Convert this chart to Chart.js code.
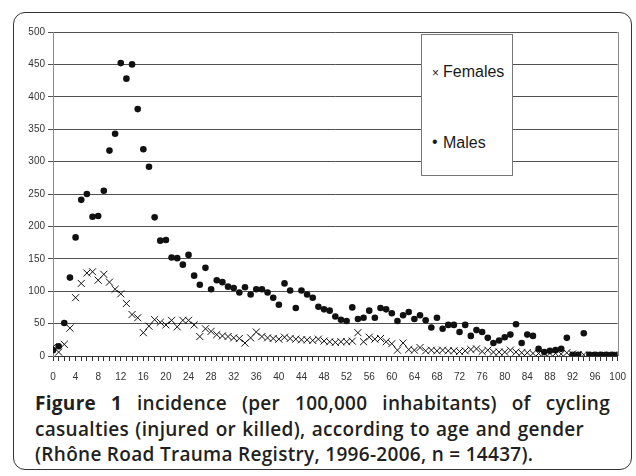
<!DOCTYPE html>
<html>
<head>
<meta charset="utf-8">
<script src="https://cdn.jsdelivr.net/npm/chart.js@4.4.1/dist/chart.umd.min.js"></script>
<style>
  html, body { margin: 0; padding: 0; background: #fff; }
  body { width: 636px; height: 476px; position: relative; overflow: hidden; }
  #frame { position: absolute; left: 13px; top: 12px; width: 619px; height: 458px; box-sizing: border-box;
           border: 1.5px solid #333; border-radius: 12px; }
  #wrap { position: absolute; left: 0; top: 0; width: 636px; height: 382px; }
  #legend { position: absolute; left: 421px; top: 34px; width: 92px; height: 142px; box-sizing: border-box;
            border: 1px solid #777; background: #fff; font-family: 'Liberation Sans', Arial, sans-serif;
            font-size: 16px; color: #1a1a1a; }
  #legend .sym { position: absolute; left: 10px; font-size: 12px; }
  #legend .txt { position: absolute; left: 21px; white-space: nowrap; }
  #caption { position: absolute; left: 35px; top: 391px; width: 575px; font-family: 'Open Sans', sans-serif;
             font-size: 19px; letter-spacing: 0.3px; font-weight: 600; color: #231f20; line-height: 25.5px; }
  #caption div { white-space: nowrap; }
  #caption .l1 { text-align: justify; text-align-last: justify; }
  #caption .l2 { word-spacing: 1px; }
  #caption b { font-weight: 700; }
</style>
</head>
<body>
<div id="frame"></div>
<div id="wrap"><canvas id="c" width="636" height="382"></canvas></div>
<div id="legend">
  <span class="sym" style="top:31px">×</span><span class="txt" style="top:28px">Females</span>
  <span class="sym" style="top:98px;font-size:16px">•</span><span class="txt" style="top:99px">Males</span>
</div>
<div id="caption">
  <div class="l1"><b>Figure 1</b> incidence (per 100,000 inhabitants) of cycling</div>
  <div class="l2">casualties (injured or killed), according to age and gender</div>
  <div class="l3">(Rhône Road Trauma Registry, 1996-2006, n = 14437).</div>
</div>
<script>
const ages = [0,1,2,3,4,5,6,7,8,9,10,11,12,13,14,15,16,17,18,19,20,21,22,23,24,25,26,27,28,29,30,
  31,32,33,34,35,36,37,38,39,40,41,42,43,44,45,46,47,48,49,50,51,52,53,54,55,56,57,58,59,60,
  61,62,63,64,65,66,67,68,69,70,71,72,73,74,75,76,77,78,79,80,81,82,83,84,85,86,87,88,89,90,
  91,92,93,94,95,96,97,98,99,100];

const males = [9,15,51,121,183,241,250,215,216,255,317,343,452,428,450,381,319,292,214,178,
  179,152,151,141,156,124,110,136,103,117,114,107,105,98,106,95,103,103,98,90,
  79,112,101,74,101,95,90,76,72,70,61,56,54,75,57,59,70,59,74,72,
  66,54,63,68,57,63,55,44,59,42,48,48,37,48,31,40,37,28,20,24,
  29,33,49,20,33,31,11,6,8,9,11,28,2,2,35,2,2,2,2,2,2];

const females = [14,6,18,43,90,112,128,130,117,126,114,103,96,81,64,59,36,46,56,52,
  48,55,45,55,55,48,30,42,38,33,31,30,28,27,20,28,37,30,28,27,
  26,29,27,26,25,25,24,26,23,22,21,22,22,23,36,22,29,26,27,22,
  19,9,20,10,9,13,8,9,8,9,8,8,7,8,10,11,7,9,6,6,
  6,9,6,5,5,4,4,4,4,4,3,5,3,2,2,1,1,1,1,1,1];

const xTickLabels = [0,4,8,12,16,20,24,28,32,36,40,44,48,52,56,60,64,68,72,76,80,84,88,92,96,100];
const yTickLabels = [0,50,100,150,200,250,300,350,400,450,500];

const tickFont = "'Liberation Sans', Arial, sans-serif";

const borderPlugin = {
  id: 'rightBorder',
  beforeDatasetsDraw(chart) {
    const a = chart.chartArea, ctx = chart.ctx;
    ctx.save();
    ctx.strokeStyle = '#8a8a8a';
    ctx.lineWidth = 1;
    ctx.beginPath();
    ctx.moveTo(Math.round(a.right) + 0.5, a.top);
    ctx.lineTo(Math.round(a.right) + 0.5, a.bottom);
    ctx.stroke();
    ctx.restore();
  }
};

new Chart(document.getElementById('c'), {
  type: 'scatter',
  data: {
    datasets: [
      {
        label: 'Females',
        data: ages.map((a, i) => ({ x: a, y: females[i] })),
        pointStyle: 'crossRot',
        pointRadius: 5,
        borderWidth: 1,
        borderColor: '#111',
        backgroundColor: '#111'
      },
      {
        label: 'Males',
        data: ages.map((a, i) => ({ x: a, y: males[i] })),
        pointStyle: 'circle',
        pointRadius: 3.3,
        borderWidth: 0,
        borderColor: '#111',
        backgroundColor: '#111'
      }
    ]
  },
  options: {
    responsive: false,
    animation: false,
    layout: { padding: { left: 0, right: 15, top: 32, bottom: 0 } },
    plugins: { legend: { display: false }, tooltip: { enabled: false } },
    scales: {
      x: {
        type: 'linear', min: 0, max: 100,
        afterFit(s) { s.height = 26; },
        afterBuildTicks(s) { s.ticks = ages.map(v => ({ value: v })); },
        grid: { drawOnChartArea: false, drawTicks: true, tickLength: 5, color: '#333', tickWidth: 1 },
        border: { display: true, color: '#333', width: 1 },
        ticks: {
          autoSkip: false, maxRotation: 0, minRotation: 0, padding: 10,
          color: '#333', font: { family: tickFont, size: 10 },
          callback: (v) => xTickLabels.includes(v) ? String(v) : ''
        }
      },
      y: {
        type: 'linear', min: 0, max: 500,
        afterFit(s) { s.width = 53; },
        afterBuildTicks(s) { s.ticks = yTickLabels.map(v => ({ value: v })); },
        grid: { drawOnChartArea: true, drawTicks: true, tickLength: 5, color: '#505050', lineWidth: 1 },
        border: { display: true, color: '#8a8a8a', width: 1 },
        ticks: { padding: 3, color: '#333', font: { family: tickFont, size: 10 } }
      }
    }
  },
  plugins: [borderPlugin]
});
</script>
</body>
</html>
